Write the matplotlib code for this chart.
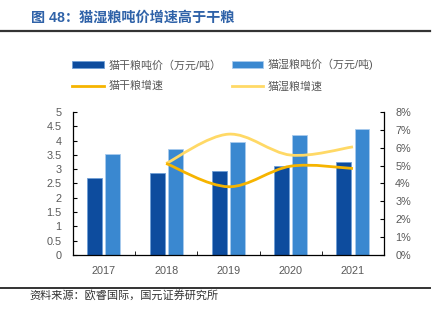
from matplotlib import pyplot as plt
from matplotlib.patches import Patch, PathPatch
from matplotlib.lines import Line2D
from matplotlib.path import Path
import numpy as np

# Data
years = ["2017", "2018", "2019", "2020", "2021"]
dry_price = [2.70, 2.86, 2.95, 3.10, 3.25]      # 猫干粮吨价（万元/吨）
wet_price = [3.52, 3.70, 3.95, 4.19, 4.42]      # 猫湿粮吨价（万元/吨）
growth_years = ["2018", "2019", "2020", "2021"]
dry_growth = [5.12, 3.82, 4.97, 4.84]           # 猫干粮增速 (%)
wet_growth = [5.12, 6.76, 5.59, 6.05]           # 猫湿粮增速 (%)

DARK = "#0d4c9e"
LIGHT = "#3a88d0"
DRY_LINE = "#f6b400"
WET_LINE = "#ffd966"
GRAY = "#595959"

plt.rcParams["font.family"] = ["Liberation Sans", "Noto Sans CJK SC", "DejaVu Sans"]


def smooth_path(xs, ys):
    """Excel-like smoothed line through the points as cubic Bezier segments."""
    pts = np.column_stack([xs, ys]).astype(float)
    n = len(pts)
    verts = [pts[0]]
    codes = [Path.MOVETO]
    for i in range(n - 1):
        p0 = pts[max(i - 1, 0)]
        p1 = pts[i]
        p2 = pts[i + 1]
        p3 = pts[min(i + 2, n - 1)]
        c1 = p1 + (p2 - p0) / 6.0
        c2 = p2 - (p3 - p1) / 6.0
        verts += [c1, c2, p2]
        codes += [Path.CURVE4] * 3
    return Path(verts, codes)


fig = plt.figure(figsize=(4.39, 3.21), dpi=100)
ax = fig.add_axes([0.1656, 0.2056, 0.7094, 0.4455])

x = np.arange(len(years))
w = 0.24
ax.bar(x - 0.145, dry_price, w, color=DARK, edgecolor="#6f9fd6", linewidth=0.6, zorder=2)
ax.bar(x + 0.145, wet_price, w, color=LIGHT, edgecolor="#a9cbee", linewidth=0.6, zorder=2)

ax.set_xlim(-0.5, len(years) - 0.5)
ax.set_ylim(0, 5)
ax.set_yticks(np.arange(0, 5.01, 0.5))
ax.set_yticklabels([f"{v:g}" for v in np.arange(0, 5.01, 0.5)])
ax.set_xticks(x)
ax.set_xticklabels(years)
ax.set_xticks(np.arange(0.5, len(years) - 0.5, 1), minor=True)
ax.tick_params(axis="x", which="major", length=0, pad=8, labelsize=7.8, labelcolor=GRAY)
ax.tick_params(axis="x", which="minor", length=3, direction="in", color="black")
ax.tick_params(axis="y", direction="in", length=3, labelsize=7.8, labelcolor=GRAY, pad=8)
ax.spines["top"].set_visible(False)
ax.spines["right"].set_visible(False)
for s in ["left", "bottom"]:
    ax.spines[s].set_color("black")
    ax.spines[s].set_linewidth(0.9)

ax2 = ax.twinx()
ax2.set_ylim(0, 8)
ax2.set_yticks(range(0, 9))
ax2.set_yticklabels([f"{v}%" for v in range(0, 9)])
ax2.tick_params(axis="y", direction="in", length=3, labelsize=7.8, labelcolor=GRAY, pad=8)
ax2.spines["top"].set_visible(False)
ax2.spines["left"].set_visible(False)
ax2.spines["bottom"].set_visible(False)
ax2.spines["right"].set_color("black")
ax2.spines["right"].set_linewidth(0.9)

gx = [years.index(y) for y in growth_years]
ax2.add_patch(PathPatch(smooth_path(gx, wet_growth), fill=False, edgecolor=WET_LINE, lw=2, zorder=3))
ax2.add_patch(PathPatch(smooth_path(gx, dry_growth), fill=False, edgecolor=DRY_LINE, lw=2, zorder=3))

handles = [
    Patch(facecolor=DARK, edgecolor="#6f9fd6", linewidth=0.6),
    Line2D([], [], color=DRY_LINE, lw=2),
    Patch(facecolor=LIGHT, edgecolor="#a9cbee", linewidth=0.6),
    Line2D([], [], color=WET_LINE, lw=2),
]
labels = ["猫干粮吨价（万元/吨）", "猫干粮增速", "猫湿粮吨价（万元/吨)", "猫湿粮增速"]
fig.legend(handles, labels, ncol=2, loc="upper left", bbox_to_anchor=(0.165, 0.816),
           frameon=False, fontsize=7.9, labelcolor=GRAY, handlelength=2.9,
           handleheight=0.6, handletextpad=0.4, columnspacing=0.9, labelspacing=0.95,
           borderpad=0, borderaxespad=0)

# Title, separator lines and source note
fig.text(0.071, 0.945, "图 48：猫湿粮吨价增速高于干粮", fontsize=10.2, fontweight="bold",
         color="#2f62a8", va="center", ha="left")
fig.add_artist(Line2D([0, 0.98], [0.903, 0.903], color="#333333", lw=1.6))
fig.add_artist(Line2D([0, 0.98], [0.103, 0.103], color="#333333", lw=1.4))
fig.text(0.068, 0.078, "资料来源：欧睿国际，国元证券研究所", fontsize=8, color="#333333",
         va="center", ha="left")

fig.savefig("out.png", dpi=100, facecolor="white")
